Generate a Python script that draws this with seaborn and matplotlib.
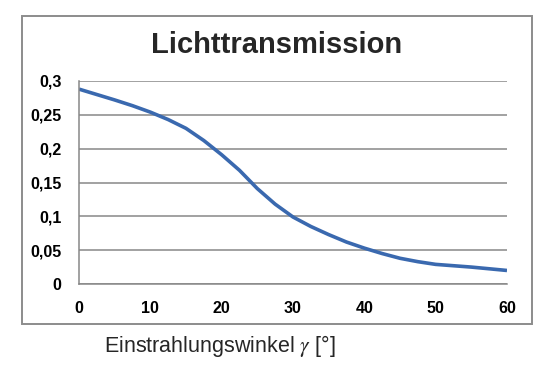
import matplotlib
matplotlib.use("Agg")
import matplotlib.pyplot as plt
import seaborn as sns
import pandas as pd
from matplotlib.patches import Rectangle
from matplotlib.ticker import FuncFormatter

# Data
angle = [0, 2.5, 5, 7.5, 10, 12.5, 15, 17.5, 20, 22.5, 25, 27.5, 30, 32.5, 35,
         37.5, 40, 42.5, 45, 47.5, 50, 52.5, 55, 57.5, 60]
transmission = [0.288, 0.280, 0.272, 0.2635, 0.254, 0.243, 0.230, 0.212, 0.191, 0.168,
                0.141, 0.118, 0.099, 0.085, 0.073, 0.062, 0.053, 0.045, 0.038, 0.033,
                0.029, 0.027, 0.025, 0.0225, 0.020]
x_ticks = [0, 10, 20, 30, 40, 50, 60]
y_ticks = [0, 0.05, 0.1, 0.15, 0.2, 0.25, 0.3]
title = "Lichttransmission"
xlabel = "Einstrahlungswinkel $\\gamma$ [°]"

sns.set_theme(style="white")
plt.rcParams['font.family'] = ['Liberation Sans', 'DejaVu Sans']
plt.rcParams['mathtext.fontset'] = 'stix'

df = pd.DataFrame({"angle": angle, "transmission": transmission})

W, H = 555, 377
fig = plt.figure(figsize=(W / 100, H / 100), dpi=100)
fig.patch.set_facecolor("white")

# outer chart frame
fig.patches.append(Rectangle((22 / W, 1 - 324 / H), (532 - 22) / W, (324 - 16) / H,
                             transform=fig.transFigure, fill=False,
                             edgecolor="#8c8c8c", linewidth=1.4))

ax = fig.add_axes([79 / W, 1 - 284 / H, (507 - 79) / W, (284 - 81) / H])
sns.lineplot(data=df, x="angle", y="transmission", ax=ax, color="#3A69AF",
             linewidth=2.6)
for ln in ax.get_lines():
    ln.set_solid_joinstyle("round")
    ln.set_solid_capstyle("butt")

ax.set_xlim(0, 60)
ax.set_ylim(0, 0.3)
ax.set_xticks(x_ticks)
ax.set_yticks(y_ticks)
ax.yaxis.set_major_formatter(FuncFormatter(lambda v, p: ("%g" % round(v, 2)).replace(".", ",")))
ax.xaxis.set_major_formatter(FuncFormatter(lambda v, p: "%d" % v))
ax.grid(axis="y", color="#878787", linewidth=1.1)
ax.set_axisbelow(True)
for s in ["top", "right"]:
    ax.spines[s].set_visible(False)
for s in ["left", "bottom"]:
    ax.spines[s].set_color("#878787")
    ax.spines[s].set_linewidth(1.1)
ax.tick_params(axis="both", which="major", direction="out", length=4, width=1.1,
               color="#878787", labelsize=11.5, labelcolor="black")
ax.tick_params(axis="x", pad=8.5)
ax.tick_params(axis="y", pad=8.5)
for lbl in ax.get_xticklabels() + ax.get_yticklabels():
    lbl.set_fontweight("bold")
ax.set_xlabel("")
ax.set_ylabel("")

fig.text(277 / W, 1 - 45 / H, title, ha="center", va="center",
         fontsize=21, fontweight="bold")
fig.text(220 / W, 1 - 346 / H, xlabel, ha="center", va="center",
         fontsize=15.5, family=['Liberation Sans', 'DejaVu Sans'])

fig.savefig("out.png", dpi=100, facecolor="white")
